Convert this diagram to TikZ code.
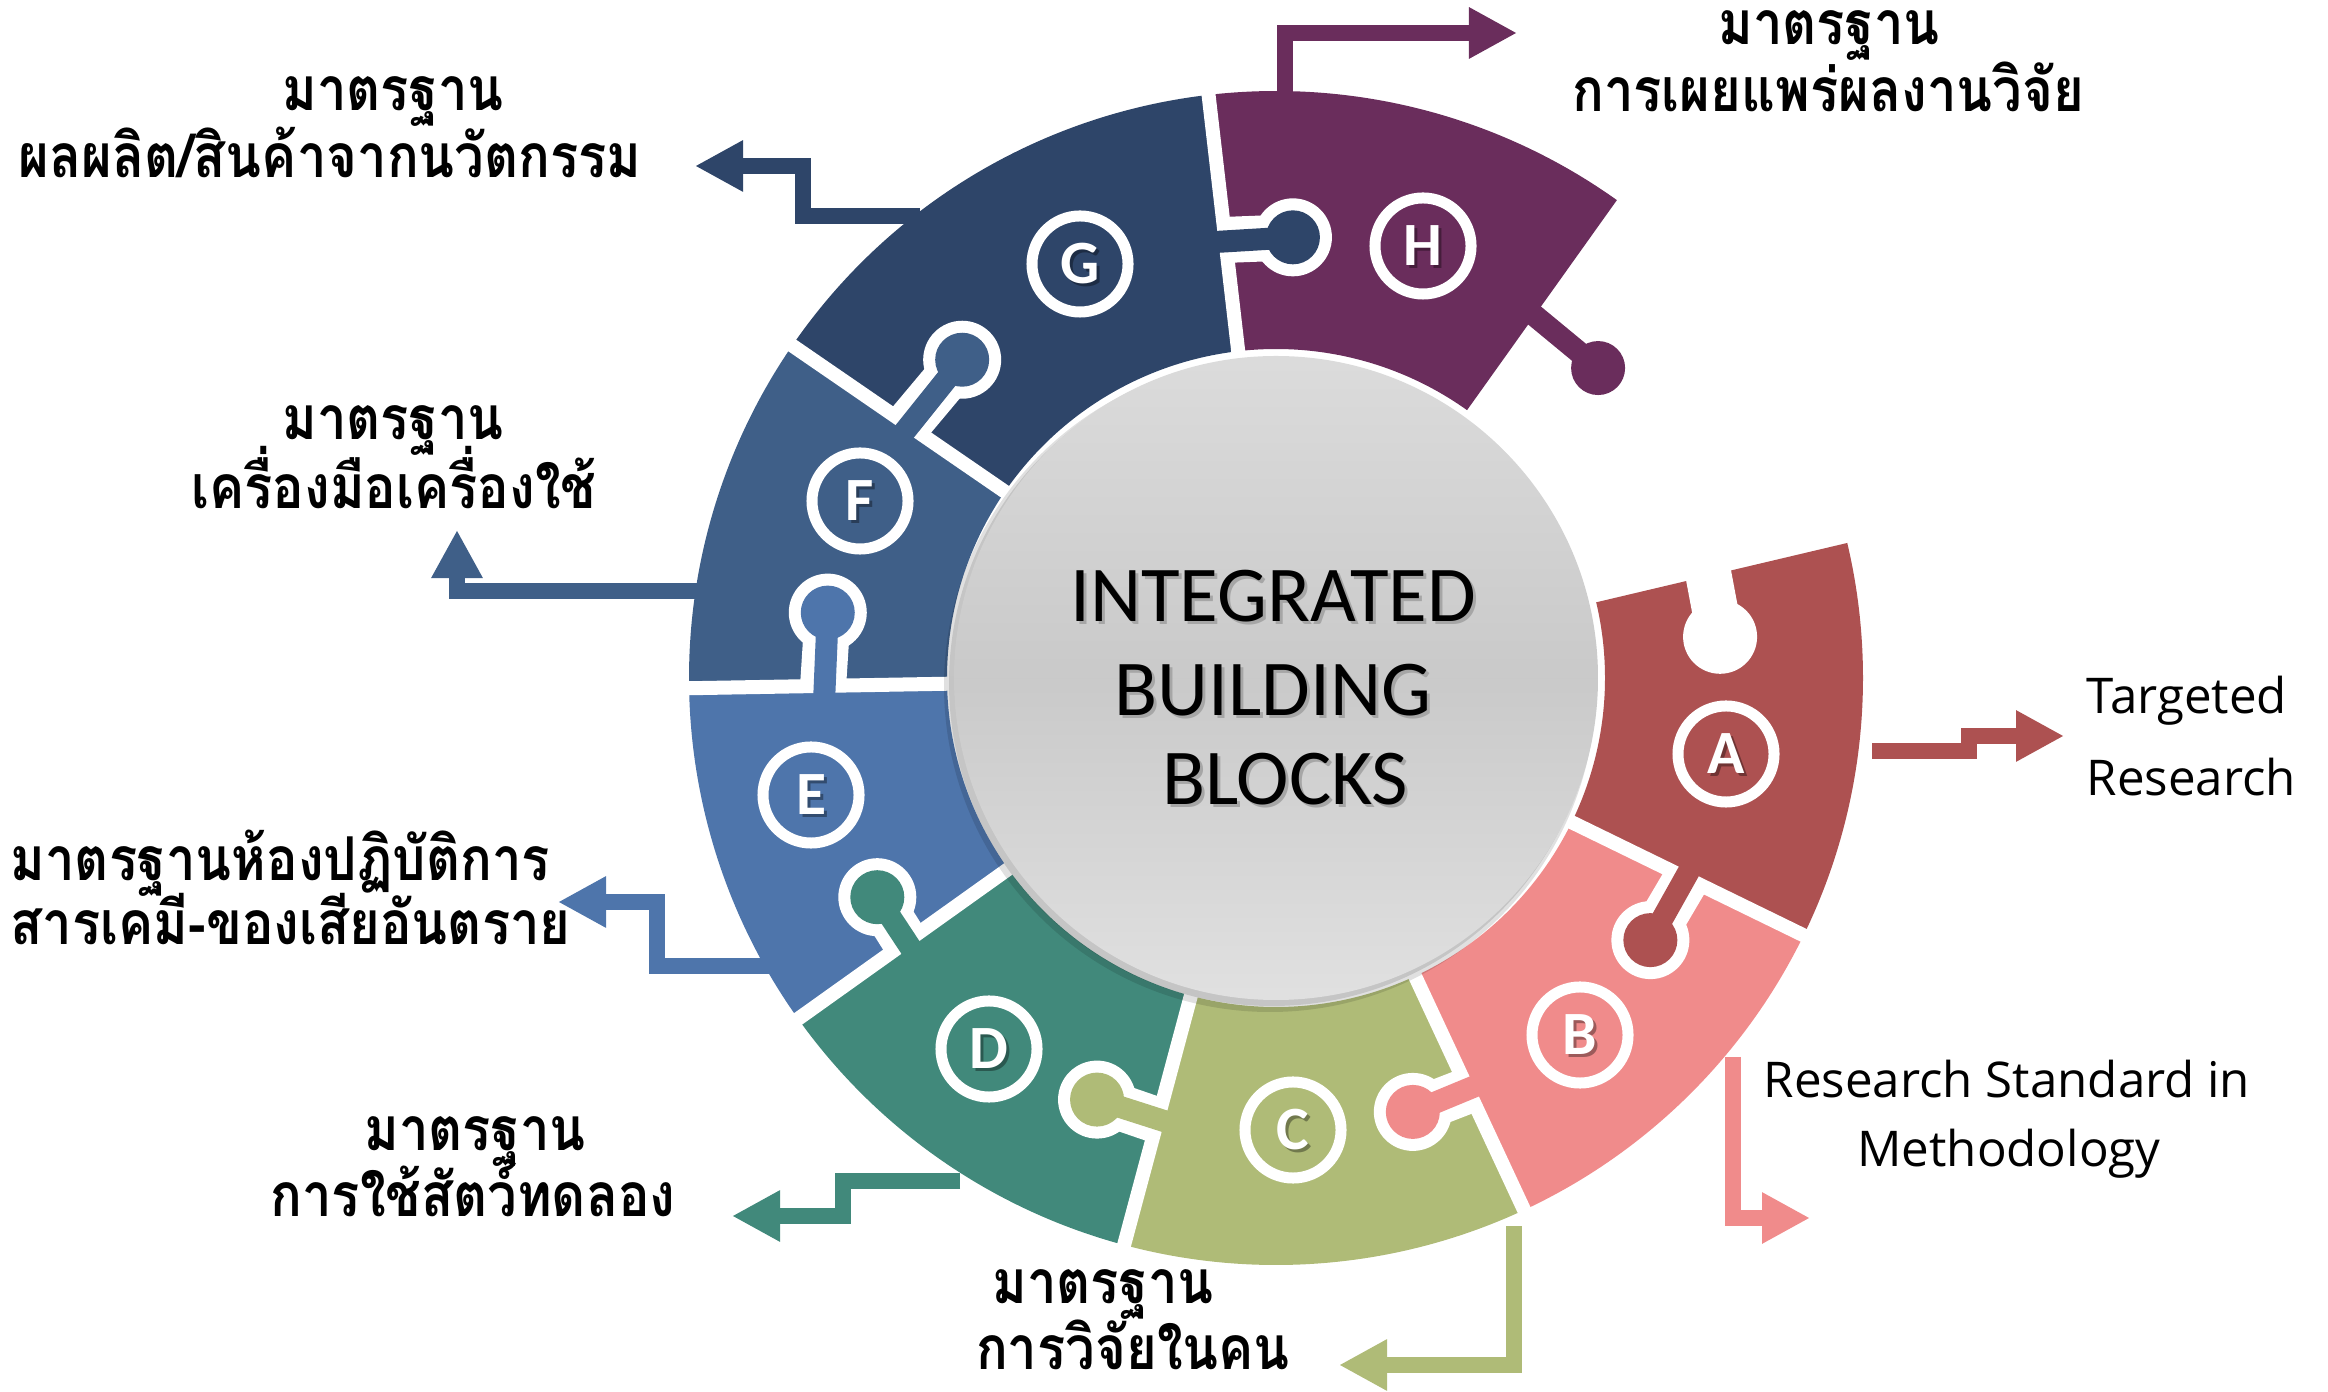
\documentclass[tikz,border=0pt]{standalone}
\usepackage{fontspec}
\setmainfont{Open Sans}
\newfontfamily\thaifont[Script=Thai, FakeStretch=0.87]{Loma}
\newfontfamily\calfont{Carlito}
\usetikzlibrary{arrows.meta}
\definecolor{cA}{HTML}{AD5151}
\definecolor{cB}{HTML}{F08B8B}
\definecolor{cC}{HTML}{AFBB77}
\definecolor{cD}{HTML}{41897B}
\definecolor{cE}{HTML}{4E75AB}
\definecolor{cF}{HTML}{3F5F88}
\definecolor{cG}{HTML}{2E4569}
\definecolor{cH}{HTML}{6A2D5C}
\newcommand\puzzlepiece[3]{\fill[#3] (#1:587) arc[start angle=#1, end angle=#2, radius=587] -- (#2:329) arc[start angle=#2, end angle=#1, radius=329] -- cycle;}
\newcommand\tabwhite[3]{\draw[white, line width=0.46cm] (#1:#3) -- (#2:#3); \fill[white] (#2:#3) circle (39);}
\newcommand\tabfill[4]{\draw[#4, line width=0.22cm] (#1+2.5:#3) -- (#2:#3); \fill[#4] (#2:#3) circle (27);}
\begin{document}
\begin{tikzpicture}[x=0.01cm, y=0.01cm, line join=miter,
  arr/.style={line width=0.16cm, -{Triangle[width=0.48cm,length=0.48cm]}},
  thlabel/.style={font=\thaifont\bfseries\fontsize{17.2}{20}\selectfont, inner sep=0, anchor=base},
  enlabel/.style={font=\fontsize{14}{17}\selectfont, inner sep=0, anchor=base},
  badge/.style={circle, draw=white, line width=0.11cm, minimum size=0.96cm, inner sep=0, font=\calfont\bfseries\fontsize{17.5}{20}\selectfont, text=white},
  badgeshadow/.style={inner sep=0, xshift=0.03cm, yshift=-0.03cm, font=\calfont\bfseries\fontsize{17.5}{20}\selectfont, text=black, opacity=0.35},
  ctext/.style={font=\calfont\fontsize{22.5}{26}\selectfont, inner sep=0, anchor=base}]
\useasboundingbox (0,0) rectangle (2328,1391);
% arrows (drawn under the pieces)
\coordinate (hS) at (1285,1290); \coordinate (hT) at (1517,1358);
\draw[arr, cH] (hS) |- (hT);
\coordinate (gS) at (920,1175); \coordinate (gM) at (803,1225); \coordinate (gT) at (695,1225);
\draw[arr, cG] (gS) -| (gM) -- (gT);
\coordinate (fS) at (700,800); \coordinate (fT) at (457,861);
\draw[arr, cF] (fS) -| (fT);
\coordinate (eS) at (770,425); \coordinate (eM) at (657,489); \coordinate (eT) at (558,489);
\draw[arr, cE] (eS) -| (eM) -- (eT);
\coordinate (dS) at (960,210); \coordinate (dM) at (843,175); \coordinate (dT) at (732,175);
\draw[arr, cD] (dS) -| (dM) -- (dT);
\coordinate (cS) at (1514,165); \coordinate (cT) at (1339,26);
\draw[arr, cC] (cS) |- (cT);
\coordinate (bS) at (1733,334); \coordinate (bT) at (1810,173);
\draw[arr, cB] (bS) |- (bT);
\coordinate (aS) at (1872,640); \coordinate (aM) at (1969,655); \coordinate (aT) at (2064,655);
\draw[arr, cA] (aS) -| (aM) -- (aT);
% puzzle ring
\begin{scope}[shift={(1276,713)}]
\puzzlepiece{54.5}{96.6}{cH}
\puzzlepiece{96.6}{145.5}{cG}
\puzzlepiece{145.5}{181}{cF}
\puzzlepiece{181}{215.5}{cE}
\puzzlepiece{215.5}{255}{cD}
\puzzlepiece{255}{295}{cC}
\puzzlepiece{295}{334}{cB}
\puzzlepiece{334}{373.3}{cA}
\tabwhite{96.6}{87.8}{441}
\tabwhite{334}{325}{457}
\tabwhite{295}{287.5}{455}
\tabwhite{255}{247}{458}
\tabwhite{215.5}{208.8}{455}
\tabwhite{181}{171.7}{453}
\tabwhite{145.5}{134.6}{447}
\foreach \b in {96.6,145.5,181,215.5,255,295,334} \draw[white, line width=0.14cm] (\b:300) -- (\b:610);
\tabfill{96.6}{87.8}{441}{cG}
\tabfill{334}{325}{457}{cA}
\tabfill{295}{287.5}{455}{cB}
\tabfill{255}{247}{458}{cC}
\tabfill{215.5}{208.8}{455}{cD}
\tabfill{181}{171.7}{453}{cE}
\tabfill{145.5}{134.6}{447}{cF}
\tabfill{54.5}{43.9}{447}{cH}
\fill[white] (5.3:446) circle (37);
\draw[white, line width=0.46cm] (5.3:446) -- (16:446);
\end{scope}
% centre disc
\fill[black, opacity=0.12] (1270,705) circle (326);
\fill[black, opacity=0.12] (1272,708) circle (323);
\shade[top color=black!14, bottom color=black!12, middle color=black!21] (1276,713) circle (322);
\node[ctext, text=black!35] (c1s) at (1276,766) {INTEGRATED};
\node[ctext, text=black!35] (c2s) at (1276,672) {BUILDING};
\node[ctext, text=black!35] (c3s) at (1288,583) {BLOCKS};
\node[ctext] (c1) at (1273,769) {INTEGRATED};
\node[ctext] (c2) at (1273,675) {BUILDING};
\node[ctext] (c3) at (1285,586) {BLOCKS};
% badges
\node[badgeshadow] (sA) at (1726,637) {A};
\node[badgeshadow] (sB) at (1580,356) {B};
\node[badgeshadow] (sC) at (1293,261) {C};
\node[badgeshadow] (sD) at (989,342) {D};
\node[badgeshadow] (sE) at (811,596) {E};
\node[badgeshadow] (sF) at (860,890) {F};
\node[badgeshadow] (sG) at (1080,1127) {G};
\node[badgeshadow] (sH) at (1423,1145) {H};
\node[badge] (bA) at (1726,637) {A};
\node[badge] (bB) at (1580,356) {B};
\node[badge] (bC) at (1293,261) {C};
\node[badge] (bD) at (989,342) {D};
\node[badge] (bE) at (811,596) {E};
\node[badge] (bF) at (860,890) {F};
\node[badge] (bG) at (1080,1127) {G};
\node[badge] (bH) at (1423,1145) {H};
% labels
\node[thlabel] (gl1) at (393,1280) {มาตรฐาน};
\node[thlabel] (gl2) at (330,1213) {ผลผลิต/สินค้าจากนวัตกรรม};
\node[thlabel] (fl1) at (393,951) {มาตรฐาน};
\node[thlabel] (fl2) at (394,882) {เครื่องมือเครื่องใช้};
\node[thlabel, anchor=base west] (el1) at (10,510) {มาตรฐานห้องปฏิบัติการ};
\node[thlabel, anchor=base west] (el2) at (10,446) {สารเคมี-ของเสียอันตราย};
\node[thlabel] (dl1) at (475,241) {มาตรฐาน};
\node[thlabel] (dl2) at (473,175) {การใช้สัตว์ทดลอง};
\node[thlabel] (cl1) at (1103,88) {มาตรฐาน};
\node[thlabel] (cl2) at (1133,22) {การวิจัยในคน};
\node[thlabel] (hl1) at (1829,1346) {มาตรฐาน};
\node[thlabel] (hl2) at (1828,1279) {การเผยแพร่ผลงานวิจัย};
\node[enlabel, anchor=base west] (al1) at (2086,677) {Targeted};
\node[enlabel, anchor=base west] (al2) at (2086,595) {Research};
\node[enlabel] (bl1) at (2007,294) {Research Standard in};
\node[enlabel] (bl2) at (2009,225) {Methodology};
\end{tikzpicture}
\end{document}
